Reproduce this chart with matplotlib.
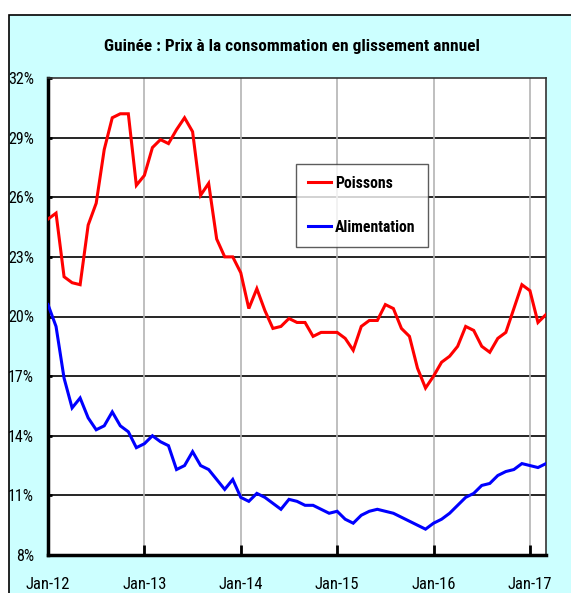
import matplotlib
matplotlib.use("Agg")
import matplotlib.pyplot as plt
from matplotlib.patches import Rectangle

plt.rcParams['font.family'] = ['Roboto Condensed', 'Archivo Narrow', 'Liberation Sans',
                               'DejaVu Sans']

title = "Guinée : Prix à la consommation en glissement annuel"
tick_labels = ["Jan-12", "Jan-13", "Jan-14", "Jan-15", "Jan-16", "Jan-17"]
y_ticks = [8, 11, 14, 17, 20, 23, 26, 29, 32]

poissons = [24.9, 25.2, 22.0, 21.7, 21.6, 24.6, 25.7, 28.4, 30.0, 30.2,
            30.2, 26.6, 27.1, 28.5, 28.9, 28.7, 29.4, 30.0, 29.3, 26.1,
            26.7, 23.9, 23.0, 23.0, 22.2, 20.4, 21.4, 20.3, 19.4, 19.5,
            19.9, 19.7, 19.7, 19.0, 19.2, 19.2, 19.2, 18.9, 18.3, 19.5,
            19.8, 19.8, 20.6, 20.4, 19.4, 19.0, 17.4, 16.4, 17.0, 17.7,
            18.0, 18.5, 19.5, 19.3, 18.5, 18.2, 18.9, 19.2, 20.4, 21.6,
            21.3, 19.7, 20.1]
alimentation = [20.6, 19.5, 16.9, 15.4, 15.9, 14.9, 14.3, 14.5, 15.2, 14.5,
                14.2, 13.4, 13.6, 14.0, 13.7, 13.5, 12.3, 12.5, 13.2, 12.5,
                12.3, 11.8, 11.3, 11.8, 10.9, 10.7, 11.1, 10.9, 10.6, 10.3,
                10.8, 10.7, 10.5, 10.5, 10.3, 10.1, 10.2, 9.8, 9.6, 10.0,
                10.2, 10.3, 10.2, 10.1, 9.9, 9.7, 9.5, 9.3, 9.6, 9.8,
                10.1, 10.5, 10.9, 11.1, 11.5, 11.6, 12.0, 12.2, 12.3, 12.6,
                12.5, 12.4, 12.6]

W, H = 571, 593
fig = plt.figure(figsize=(W / 100, H / 100), dpi=100)
fig.patch.set_facecolor('white')
fig.patches.append(Rectangle((9 / W, -0.1), 1.2, 1.1 - 15 / H, transform=fig.transFigure,
                             facecolor='#CCFFFF', edgecolor='black', linewidth=1.2,
                             zorder=-5))

ax = fig.add_axes([48 / W, 1 - 555 / H, (546 - 48) / W, (555 - 78) / H])
ax.set_zorder(2)
ax.set_facecolor('white')

x = list(range(len(poissons)))
ax.plot(x, poissons, color='#FF0000', lw=2.2, label='Poissons', zorder=3,
        solid_joinstyle='miter')
ax.plot(x, alimentation, color='#0000FF', lw=2.2, label='Alimentation', zorder=3,
        solid_joinstyle='miter')

ax.set_xlim(0, len(poissons) - 1)
ax.set_ylim(8, 32)
xt = [12 * i for i in range(len(tick_labels))]
ax.set_xticks(xt)
ax.set_xticklabels(tick_labels, fontsize=12)
ax.set_yticks(y_ticks)
ax.set_yticklabels([f"{v}%" for v in y_ticks], fontsize=11.5)

for v in y_ticks[1:-1]:
    ax.axhline(v, color='black', lw=1.2, zorder=1)
for t in xt[1:]:
    ax.axvline(t, color='#B4B4B4', lw=1.2, zorder=1)

ax.tick_params(axis='x', direction='in', length=7, width=2, pad=16, colors='black')
ax.tick_params(axis='y', direction='in', length=3, width=2, pad=10, colors='black')

ax.spines['left'].set_linewidth(2.5)
ax.spines['bottom'].set_linewidth(2.5)
ax.spines['top'].set_linewidth(1.2)
ax.spines['right'].set_linewidth(1.2)
ax.spines['top'].set_color('#333333')
ax.spines['right'].set_color('#333333')

leg = ax.legend(loc='upper left', bbox_to_anchor=((296 - 48) / 498, 1 - (164 - 78) / 477),
                borderaxespad=0, frameon=True, fancybox=False, handlelength=1.45,
                handletextpad=0.3, labelspacing=1.85, borderpad=0.75,
                prop={'weight': 'bold', 'size': 11.3})
leg.get_frame().set_edgecolor('#333333')
leg.get_frame().set_linewidth(1.0)

fig.text(292 / W, 1 - 47 / H, title, ha='center', va='center', fontsize=12.4,
         fontweight='bold')

fig.savefig('out.png', dpi=100)
